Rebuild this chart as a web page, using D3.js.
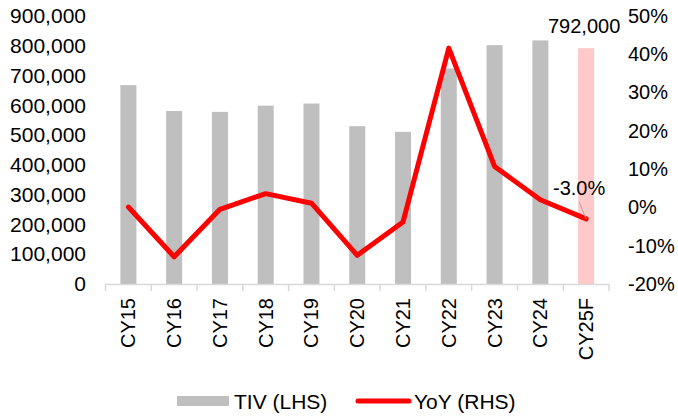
<!DOCTYPE html>
<html>
<head>
<meta charset="utf-8" />
<style>
	body { margin: 0; background: #fff; }
	svg text { font-family: 'Liberation Sans', Arial, sans-serif; font-size: 20px; fill: #000; }
	.axis path { stroke-width: 0; }
	.axis line { stroke-width: 0; }
	.leftAxis text, .legend text { font-size: 21px; }
</style>
</head>
<body>
<div class="chart"></div>

<script src="https://d3js.org/d3.v7.min.js"></script>
<script>

//// data ////
var years = ['CY15', 'CY16', 'CY17', 'CY18', 'CY19', 'CY20', 'CY21', 'CY22', 'CY23', 'CY24', 'CY25F'];
var tiv = [668000, 581000, 578000, 599000, 606000, 530000, 511000, 724000, 802000, 818000, 792000];
var yoy = [0.1, -12.9, -0.5, 3.6, 1.1, -12.5, -3.8, 41.6, 10.7, 2.0, -3.0];
var leftTicks = [0, 100000, 200000, 300000, 400000, 500000, 600000, 700000, 800000, 900000];
var rightTicks = [-20, -10, 0, 10, 20, 30, 40, 50];

var width = 678, height = 419;

var svg = d3.select('.chart').append('svg')
	.attr('width', width)
	.attr('height', height);

// scales
var x = d3.scaleBand()
	.domain(years)
	.range([105.5, 609])
	.paddingInner(0.65)
	.paddingOuter(0.325);

var yL = d3.scaleLinear().domain([0, 900000]).range([284, 16]);
var yR = d3.scaleLinear().domain([-20, 50]).range([284, 16]);

// bars
svg.selectAll('.bar')
	.data(years)
	.enter()
	.append('rect')
	.attr('class', 'bar')
	.attr('x', function (d) { return x(d); })
	.attr('width', x.bandwidth())
	.attr('y', function (d, i) { return yL(tiv[i]); })
	.attr('height', function (d, i) { return yL(0) - yL(tiv[i]); })
	.attr('fill', function (d, i) { return i == years.length - 1 ? '#ffc9c9' : '#bfbfbf'; });

// x axis line + boundary ticks
var step = x.step();
var x0 = x.range()[0];
svg.append('line')
	.attr('x1', x0).attr('x2', x.range()[1])
	.attr('y1', yL(0) + 0.5).attr('y2', yL(0) + 0.5)
	.attr('stroke', '#d9d9d9').attr('stroke-width', 1.5);
svg.selectAll('.xtick')
	.data(d3.range(years.length + 1))
	.enter()
	.append('line')
	.attr('x1', function (d) { return x0 + d * step; })
	.attr('x2', function (d) { return x0 + d * step; })
	.attr('y1', yL(0)).attr('y2', yL(0) + 7)
	.attr('stroke', '#d9d9d9').attr('stroke-width', 1.5);

// category labels (rotated)
svg.selectAll('.xlabel')
	.data(years)
	.enter()
	.append('text')
	.attr('transform', function (d) {
		return 'translate(' + (x(d) + x.bandwidth() / 2) + ',298) rotate(-90)';
	})
	.attr('text-anchor', 'end')
	.attr('dy', '0.35em')
	.text(function (d) { return d; });

// left axis
svg.append('g')
	.attr('class', 'axis leftAxis')
	.attr('transform', 'translate(90,0)')
	.call(d3.axisLeft(yL).tickValues(leftTicks).tickSize(0).tickPadding(4)
		.tickFormat(d3.format(',')))
	.selectAll('text')
	.attr('fill', null);

// right axis
svg.append('g')
	.attr('class', 'axis')
	.attr('transform', 'translate(624,0)')
	.call(d3.axisRight(yR).tickValues(rightTicks).tickSize(0).tickPadding(4)
		.tickFormat(function (d) { return d + '%'; }))
	.selectAll('text')
	.attr('fill', null);

svg.selectAll('.axis').attr('font-family', null).attr('font-size', null);

// yoy line
var line = d3.line()
	.x(function (d, i) { return x(years[i]) + x.bandwidth() / 2; })
	.y(function (d) { return yR(d); });

svg.append('path')
	.datum(yoy)
	.attr('d', line)
	.attr('fill', 'none')
	.attr('stroke', '#ff0000')
	.attr('stroke-width', 5)
	.attr('stroke-linejoin', 'round')
	.attr('stroke-linecap', 'round');

// data labels
var last = years.length - 1;
var cx = x(years[last]) + x.bandwidth() / 2;

svg.append('text')
	.attr('x', cx - 2)
	.attr('y', yL(tiv[last]) - 15)
	.attr('text-anchor', 'middle')
	.text(d3.format(',')(tiv[last]));

svg.append('line')
	.attr('x1', cx - 7).attr('y1', yR(yoy[last]) - 17)
	.attr('x2', cx).attr('y2', yR(yoy[last]))
	.attr('stroke', '#a6a6a6').attr('stroke-width', 1);

svg.append('text')
	.attr('x', cx - 7)
	.attr('y', yR(yoy[last]) - 24)
	.attr('text-anchor', 'middle')
	.text(yoy[last].toFixed(1) + '%');

// legend
var legend = svg.append('g').attr('class', 'legend');
legend.append('rect')
	.attr('x', 177).attr('y', 396).attr('width', 52).attr('height', 10)
	.attr('fill', '#bfbfbf');
legend.append('text')
	.attr('x', 234).attr('y', 401.5).attr('dy', '0.35em')
	.text('TIV (LHS)');
legend.append('line')
	.attr('x1', 358).attr('x2', 409).attr('y1', 401).attr('y2', 401)
	.attr('stroke', '#ff0000').attr('stroke-width', 5).attr('stroke-linecap', 'round');
legend.append('text')
	.attr('x', 414).attr('y', 401.5).attr('dy', '0.35em')
	.text('YoY (RHS)');

</script>
</body>
</html>
